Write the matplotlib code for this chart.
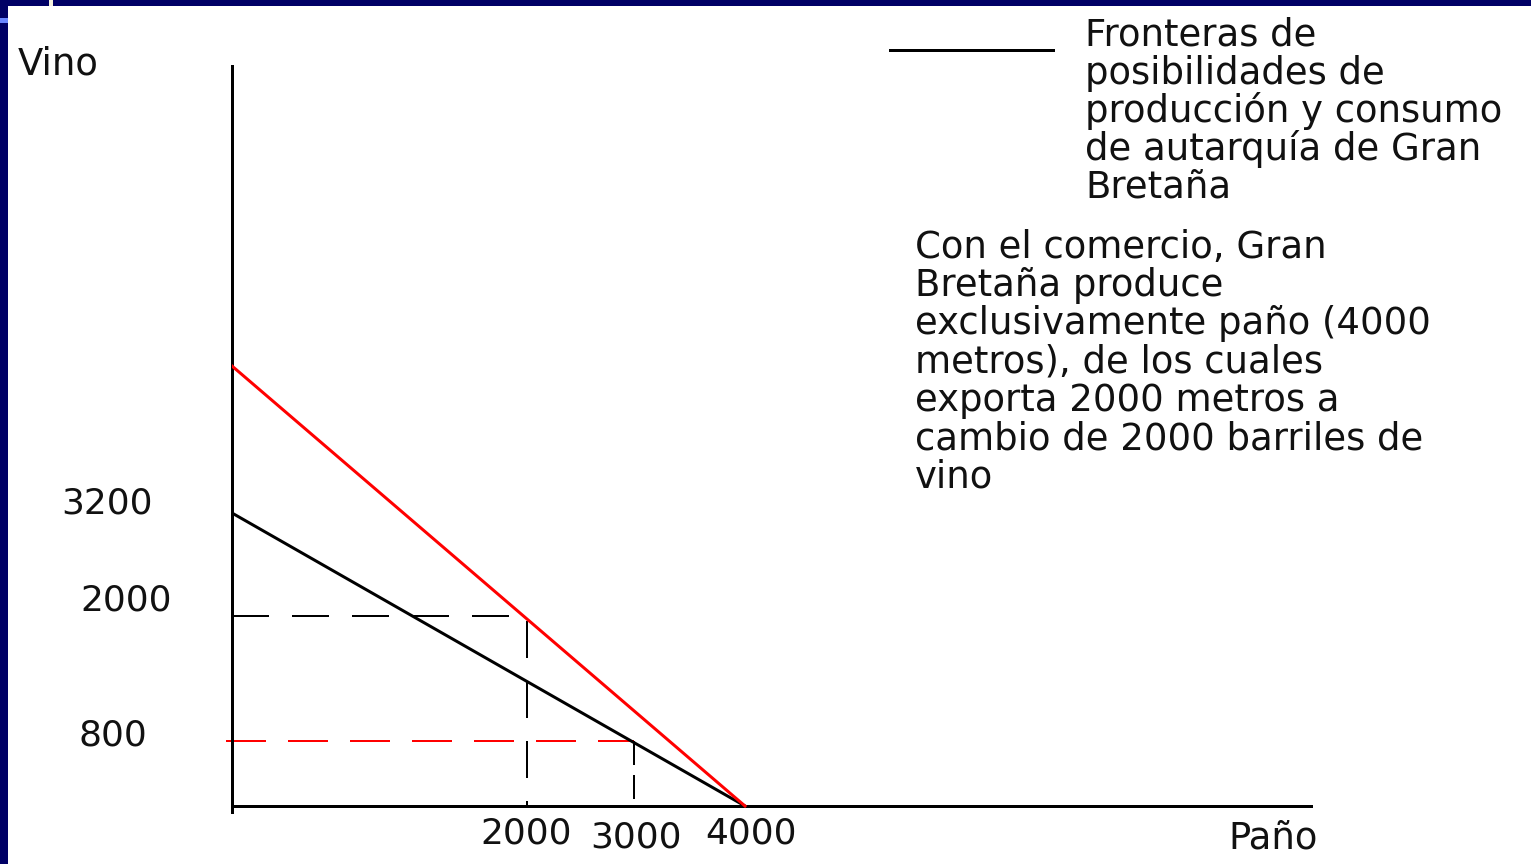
import numpy as np
import matplotlib
matplotlib.use("Agg")
import matplotlib.pyplot as plt
from matplotlib.lines import Line2D
from matplotlib.patches import Rectangle

# Frontera de autarquía de Gran Bretaña (paño, vino)
autarquia_pano = [0, 4000]
autarquia_vino = [3200, 0]

# Frontera con comercio (1 metro de paño = 1 barril de vino)
comercio_pano = [0, 4000]
comercio_vino = [4000, 0]

# Consumo con comercio: 2000 paño, 2000 vino
consumo_comercio_pano = [0, 2000, 2000]
consumo_comercio_vino = [2000, 2000, 0]

# Consumo en autarquía: 3000 paño, 800 vino
consumo_autarquia_pano = [-40, 3000, 3000]
consumo_autarquia_vino = [800, 800, 0]

x_tick_vals = [2000, 3000, 4000]
x_tick_labels = ["2000", "3000", "4000"]
y_tick_vals = [3200, 2000, 800]
y_tick_labels = ["3200", "2000", "800"]

legend_lines = ["Fronteras de", "posibilidades de", "producción y consumo",
                "de autarquía de Gran", "Bretaña"]
note_lines = ["Con el comercio, Gran", "Bretaña produce",
              "exclusivamente paño (4000", "metros), de los cuales",
              "exporta 2000 metros a", "cambio de 2000 barriles de", "vino"]

# the original drawing is not to scale: piecewise mapping value -> pixels
x_anchor = [-10000, 0, 2000, 3000, 4000, 20000]
x_pix = [-1475, 0, 295, 402, 513, 2561]
y_anchor = [-10000, 0, 800, 2000, 3200, 4000, 20000]
y_pix = [-812, 0, 65, 190, 293, 440, 1720]


def fx(v):
    return np.interp(v, x_anchor, x_pix)


def fx_inv(p):
    return np.interp(p, x_pix, x_anchor)


def fy(v):
    return np.interp(v, y_anchor, y_pix)


def fy_inv(p):
    return np.interp(p, y_pix, y_anchor)


W, H = 1531, 864
FS_NUM = 36
FS_TXT = 37
ink = "#111111"
fig = plt.figure(figsize=(W / 72, H / 72), dpi=72)
fig.patch.set_facecolor("white")

# slide frame
navy = "#000066"
fig.add_artist(Rectangle((0, 0), 8 / W, 1, transform=fig.transFigure, color=navy, lw=0))
fig.add_artist(Rectangle((0, 1 - 6 / H), 1, 6 / H, transform=fig.transFigure, color=navy, lw=0))
fig.add_artist(Rectangle((0, 1 - 23 / H), 8 / W, 5 / H, transform=fig.transFigure, color="#6a86ff", lw=0))
fig.add_artist(Rectangle((49 / W, 1 - 6 / H), 4 / W, 6 / H, transform=fig.transFigure, color="#f4f0dc", lw=0))

ax = fig.add_axes([232 / W, 52 / H, 1081 / W, 746 / H])
ax.set_xscale("function", functions=(fx, fx_inv))
ax.set_yscale("function", functions=(fy, fy_inv))
ax.set_xlim(0, fx_inv(1081))
ax.set_ylim(fy_inv(-6), fy_inv(740))
ax.patch.set_alpha(0)

for s in ["top", "right", "bottom"]:
    ax.spines[s].set_visible(False)
ax.spines["left"].set_linewidth(3)
ax.axhline(0, color="black", lw=3)
ax.set_xticks([])
ax.set_yticks([])

# dashed guides
ax.plot(consumo_comercio_pano, consumo_comercio_vino, color="black", lw=2,
        dashes=(18.5, 11.5), zorder=2)
ax.plot(consumo_autarquia_pano[:2], consumo_autarquia_vino[:2], color="red", lw=2,
        dashes=(20, 11), zorder=2, clip_on=False)
ax.plot(consumo_autarquia_pano[1:], consumo_autarquia_vino[1:], color="black", lw=2,
        dashes=(12, 5), zorder=2)

# frontiers
ax.plot(autarquia_pano, autarquia_vino, color="black", lw=3, zorder=3)
ax.plot(comercio_pano, comercio_vino, color="red", lw=3, zorder=4)

# tick labels placed like the slide
x_off = [(-1, -28), (2, -32), (6, -28)]
for v, lab, off in zip(x_tick_vals, x_tick_labels, x_off):
    ax.annotate(lab, xy=(v, 0), xytext=off, textcoords="offset points",
                ha="center", va="center", fontsize=FS_NUM, color=ink)
y_off = [(-125, 9), (-106, 15), (-119, 5)]
for v, lab, off in zip(y_tick_vals, y_tick_labels, y_off):
    ax.annotate(lab, xy=(0, v), xytext=off, textcoords="offset points",
                ha="center", va="center", fontsize=FS_NUM, color=ink)

fig.text(18 / W, 1 - 64 / H, "Vino", fontsize=FS_TXT, va="center", ha="left", color=ink)
fig.text(1228 / W, 1 - 838 / H, "Paño", fontsize=FS_TXT, va="center", ha="left", color=ink)

# legend sample and its text
fig.add_artist(Line2D([890 / W, 1053 / W], [1 - 50 / H, 1 - 50 / H],
                      transform=fig.transFigure, color="black", lw=3))
for i, line in enumerate(legend_lines):
    fig.text(1085 / W, 1 - (46 + 38 * i) / H, line, fontsize=FS_TXT,
             va="baseline", ha="left", color=ink)
for i, line in enumerate(note_lines):
    fig.text(915 / W, 1 - (258 + 38.2 * i) / H, line, fontsize=FS_TXT,
             va="baseline", ha="left", color=ink)

fig.savefig("out.png", dpi=72)
